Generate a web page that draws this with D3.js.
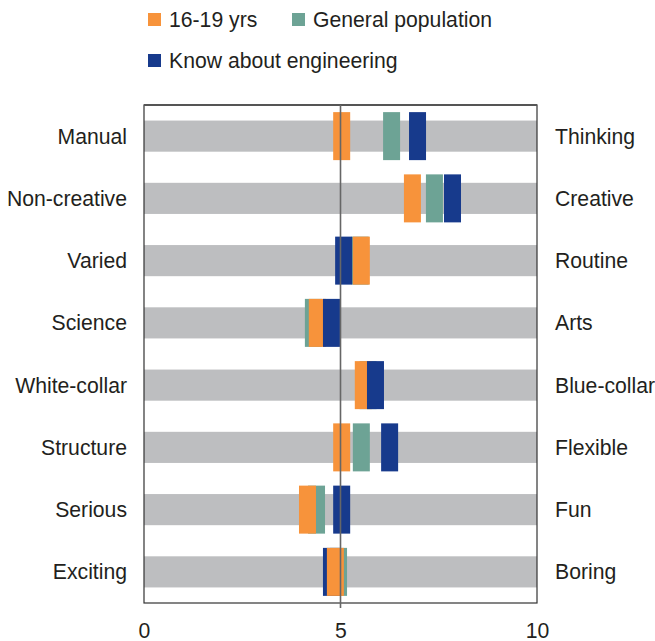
<!DOCTYPE html>
<html><head><meta charset="utf-8">
<script src="https://cdn.jsdelivr.net/npm/d3@7"></script>
<style>body{margin:0;background:#fff}svg{display:block}text{font-family:"Liberation Sans",Arial,sans-serif;fill:#231f20}</style>
</head><body><svg id="c" width="655" height="641"></svg>
<script>
const leftLabels = ["Manual","Non-creative","Varied","Science","White-collar","Structure","Serious","Exciting"];
const rightLabels = ["Thinking","Creative","Routine","Arts","Blue-collar","Flexible","Fun","Boring"];
const seriesNames = ["16-19 yrs","General population","Know about engineering"];
const youth   = [5.03, 6.83, 5.53, 4.41, 5.58, 5.03, 4.16, 4.87];
const general = [6.30, 7.39, 5.50, 4.31, 5.70, 5.53, 4.39, 4.95];
const knowEng = [6.96, 7.85, 5.08, 4.77, 5.89, 6.25, 5.03, 4.77];
const tickValues = [0, 5, 10];
const colors = ["#F7933B", "#6DA395", "#173A8C"];

const svg = d3.select("#c");
const x = d3.scaleLinear().domain([0, 10]).range([144, 537]);
const y = d3.scaleBand().domain(leftLabels).range([105, 603]).paddingInner(0.5).paddingOuter(0.25);
const markW = 17, markH = 48;
const FS = 21.2;

// gray bands
svg.append("g").selectAll("rect").data(leftLabels).join("rect")
  .attr("x", x(0)).attr("width", x(10) - x(0))
  .attr("y", d => y(d)).attr("height", y.bandwidth())
  .attr("fill", "#BDBEC0");

// markers
const seriesVals = [youth, general, knowEng];
leftLabels.forEach((lab, i) => {
  let items = seriesVals.map((arr, s) => ({s, v: arr[i]}));
  const teal = items.filter(d => d.s === 1);
  const rest = items.filter(d => d.s !== 1).sort((a, b) => a.v - b.v);
  items = teal.concat(rest);
  const cy = y(lab) + y.bandwidth() / 2;
  svg.append("g").selectAll("rect").data(items).join("rect")
    .attr("x", d => x(d.v) - markW / 2).attr("width", markW)
    .attr("y", cy - markH / 2).attr("height", markH)
    .attr("fill", d => colors[d.s]);
});

// frame
svg.append("rect").attr("x", 144).attr("y", 105).attr("width", 393).attr("height", 498)
  .attr("fill", "none").attr("stroke", "#333").attr("stroke-width", 1.2);
svg.append("line").attr("x1", 144).attr("x2", 537).attr("y1", 105).attr("y2", 105)
  .attr("stroke", "#555").attr("stroke-width", 2);
// center line
svg.append("line").attr("x1", x(5)).attr("x2", x(5)).attr("y1", 105).attr("y2", 608)
  .attr("stroke", "#666").attr("stroke-width", 1.6);

// bottom axis
const axis = d3.axisBottom(x).tickValues(tickValues).tickSize(0).tickPadding(20).tickFormat(d3.format("d"));
const ag = svg.append("g").attr("transform", "translate(0,603)").call(axis);
ag.select(".domain").remove();
ag.selectAll("text").attr("font-size", FS).style("font-family", "'Liberation Sans',Arial,sans-serif").attr("fill", "#231f20");

// category labels
svg.append("g").selectAll("text").data(leftLabels).join("text")
  .attr("x", 127).attr("y", d => y(d) + y.bandwidth() / 2).attr("dy", "0.35em")
  .attr("text-anchor", "end").attr("font-size", FS).text(d => d);
svg.append("g").selectAll("text").data(rightLabels).join("text")
  .attr("x", 555).attr("y", (d, i) => y(leftLabels[i]) + y.bandwidth() / 2).attr("dy", "0.35em")
  .attr("text-anchor", "start").attr("font-size", FS).text(d => d);

// legend
const legPos = [[148, 13], [292, 13], [148, 54]];
const lg = svg.append("g");
seriesNames.forEach((n, i) => {
  lg.append("rect").attr("x", legPos[i][0]).attr("y", legPos[i][1]).attr("width", 13).attr("height", 13).attr("fill", colors[i]);
  lg.append("text").attr("x", legPos[i][0] + 21).attr("y", legPos[i][1] + 14).attr("font-size", FS).text(n);
});
</script></body></html>
